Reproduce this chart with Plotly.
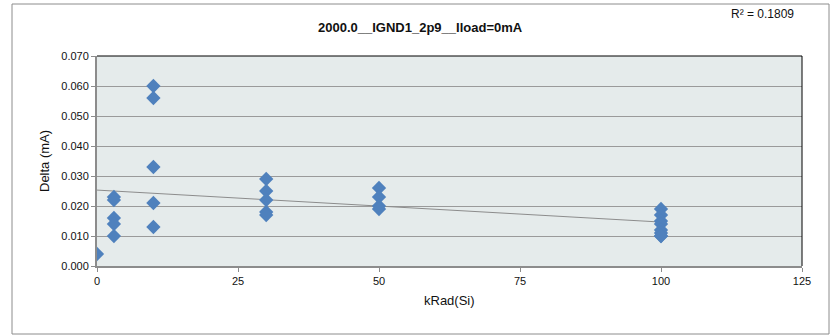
import numpy as np
import plotly.graph_objects as go

x_vals = [0,
          3, 3, 3, 3, 3,
          10, 10, 10, 10, 10,
          30, 30, 30, 30, 30,
          50, 50, 50, 50,
          100, 100, 100, 100, 100, 100, 100, 100]
delta_vals = [0.004,
              0.023, 0.022, 0.016, 0.014, 0.010,
              0.060, 0.056, 0.033, 0.021, 0.013,
              0.029, 0.025, 0.022, 0.018, 0.017,
              0.026, 0.023, 0.020, 0.019,
              0.019, 0.017, 0.015, 0.014, 0.012, 0.011, 0.010, 0.010]
title_text = "2000.0__IGND1_2p9__Iload=0mA"
r2_text = "R² = 0.1809"
x_ticks = [0, 25, 50, 75, 100, 125]
y_ticks = [0.0, 0.01, 0.02, 0.03, 0.04, 0.05, 0.06, 0.07]

slope, intercept = np.polyfit(x_vals, delta_vals, 1)
tx = [min(x_vals), max(x_vals)]
ty = [intercept + slope * t for t in tx]

W, H = 834, 335
L, R, T, B = 97, 802, 56, 266

fig = go.Figure()
fig.add_trace(go.Scatter(x=tx, y=ty, mode="lines",
                         line=dict(color="#8C8C8C", width=1), hoverinfo="skip"))
fig.add_trace(go.Scatter(x=x_vals, y=delta_vals, mode="markers",
                         marker=dict(symbol="diamond", size=11, color="#4F81BD",
                                     line=dict(width=0))))

def px(xp):
    return (xp - L) / (R - L)

def py(yp):
    return (B - yp) / (B - T)

shapes = [
    dict(type="rect", xref="paper", yref="paper",
         x0=px(12), x1=px(829), y0=py(334), y1=py(4),
         line=dict(color="#8C8C8C", width=1), fillcolor="rgba(0,0,0,0)", layer="below"),
    dict(type="line", xref="paper", yref="paper", x0=0, x1=1, y0=1, y1=1,
         line=dict(color="#000000", width=1)),
    dict(type="line", xref="paper", yref="paper", x0=1, x1=1, y0=0, y1=1,
         line=dict(color="#000000", width=1)),
]

fig.update_layout(
    width=W, height=H,
    margin=dict(l=L, r=W - R, t=T, b=H - B),
    paper_bgcolor="white",
    plot_bgcolor="#E5EBEB",
    showlegend=False,
    font=dict(family="Liberation Sans, Arial, sans-serif", size=11, color="#222"),
    shapes=shapes,
    annotations=[
        dict(text="<b>" + title_text + "</b>", xref="paper", yref="paper",
             x=px(420), y=py(27), showarrow=False, font=dict(size=13, color="#111"),
             xanchor="center", yanchor="middle"),
        dict(text=r2_text, xref="paper", yref="paper",
             x=px(762), y=py(14), showarrow=False, font=dict(size=12, color="#111"),
             xanchor="center", yanchor="middle"),
        dict(text="Delta (mA)", xref="paper", yref="paper",
             x=px(44), y=py(161), showarrow=False, textangle=-90,
             font=dict(size=13, color="#111"), xanchor="center", yanchor="middle"),
        dict(text="kRad(Si)", xref="paper", yref="paper",
             x=px(449), y=py(300), showarrow=False,
             font=dict(size=13, color="#111"), xanchor="center", yanchor="middle"),
    ],
)
fig.update_xaxes(range=[0, 125], tickvals=x_ticks, showgrid=False, zeroline=False,
                 showline=True, linecolor="#8C8C8C", linewidth=2,
                 ticks="outside", ticklen=4, tickcolor="#8C8C8C",
                 tickfont=dict(size=11, color="#111"))
fig.update_yaxes(range=[0, 0.07], tickvals=y_ticks, tickformat=".3f",
                 showgrid=True, gridcolor="#9A9A9A", gridwidth=1, zeroline=False,
                 showline=True, linecolor="#8C8C8C", linewidth=2,
                 ticks="outside", ticklen=4, tickcolor="#8C8C8C",
                 tickfont=dict(size=11, color="#111"))

fig.write_html("out.html")
